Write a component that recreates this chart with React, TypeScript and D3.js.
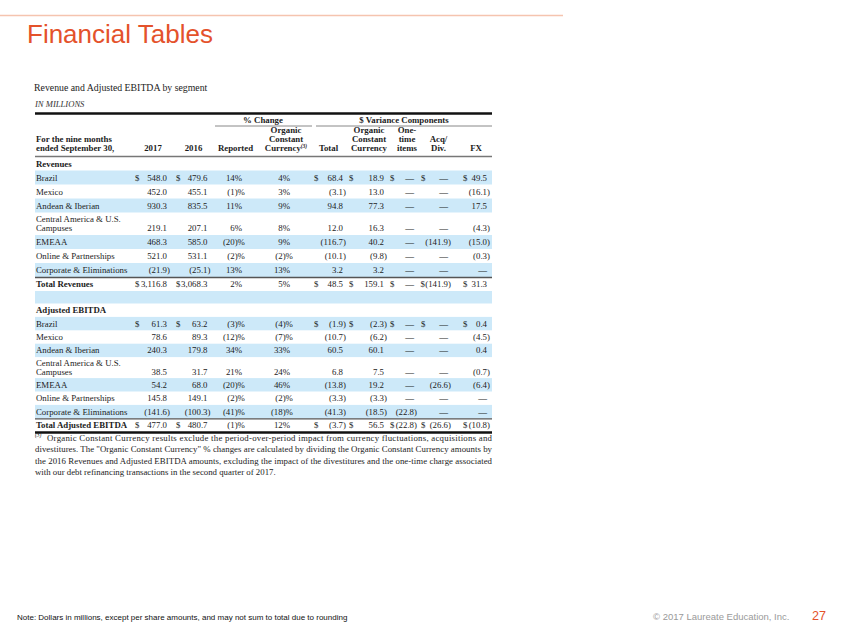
import React from "react";
import * as d3 from "d3";

// ---------- data ----------
const segments = [
  "Brazil",
  "Mexico",
  "Andean & Iberian",
  "Central America & U.S.|Campuses",
  "EMEAA",
  "Online & Partnerships",
  "Corporate & Eliminations",
];
const revenueTotalLabel = "Total Revenues";
const ebitdaTotalLabel = "Total Adjusted EBITDA";

// last value of each array is the total row
const revenue2017 = [548.0, 452.0, 930.3, 219.1, 468.3, 521.0, -21.9, 3116.8];
const revenue2016 = [479.6, 455.1, 835.5, 207.1, 585.0, 531.1, -25.1, 3068.3];
const revenueReportedPct = [14, -1, 11, 6, -20, -2, 13, 2];
const revenueOrganicPct = [4, 3, 9, 8, 9, -2, 13, 5];
const revenueVarTotal = [68.4, -3.1, 94.8, 12.0, -116.7, -10.1, 3.2, 48.5];
const revenueVarOrganic = [18.9, 13.0, 77.3, 16.3, 40.2, -9.8, 3.2, 159.1];
const revenueVarOneTime = [null, null, null, null, null, null, null, null];
const revenueVarAcq = [null, null, null, null, -141.9, null, null, -141.9];
const revenueVarFx = [49.5, -16.1, 17.5, -4.3, -15.0, -0.3, null, 31.3];

const ebitda2017 = [61.3, 78.6, 240.3, 38.5, 54.2, 145.8, -141.6, 477.0];
const ebitda2016 = [63.2, 89.3, 179.8, 31.7, 68.0, 149.1, -100.3, 480.7];
const ebitdaReportedPct = [-3, -12, 34, 21, -20, -2, -41, -1];
const ebitdaOrganicPct = [-4, -7, 33, 24, 46, -2, -18, 12];
const ebitdaVarTotal = [-1.9, -10.7, 60.5, 6.8, -13.8, -3.3, -41.3, -3.7];
const ebitdaVarOrganic = [-2.3, -6.2, 60.1, 7.5, 19.2, -3.3, -18.5, 56.5];
const ebitdaVarOneTime = [null, null, null, null, null, null, -22.8, -22.8];
const ebitdaVarAcq = [null, null, null, null, -26.6, null, null, -26.6];
const ebitdaVarFx = [0.4, -4.5, 0.4, -0.7, -6.4, null, null, -10.8];

const columnKeys = ["y2017", "y2016", "reported", "organicPct", "varTotal", "varOrganic", "varOneTime", "varAcq", "varFx"];
const columnHeaders = [["2017"], ["2016"], ["Reported"], ["Organic", "Constant", "Currency"], ["Total"], ["Organic", "Constant", "Currency"], ["One-", "time", "items"], ["Acq/", "Div."], ["FX"]];
const groupHeaders = ["% Change", "$ Variance Components"];
const stubHeader = ["For the nine months", "ended September 30,"];
const title = "Financial Tables";
const subtitle = "Revenue and Adjusted EBITDA by segment";
const unitsLabel = "IN MILLIONS";
const sectionLabels = ["Revenues", "Adjusted EBITDA"];
const footnoteLines = [
  "Organic Constant Currency results exclude the period-over-period impact from currency fluctuations, acquisitions and",
  "divestitures. The \"Organic Constant Currency\" % changes are calculated by dividing the Organic Constant Currency amounts by",
  "the 2016 Revenues and Adjusted EBITDA amounts, excluding the impact of the divestitures and the one-time charge associated",
  "with our debt refinancing transactions in the second quarter of 2017.",
];
const noteText = "Note: Dollars in millions, except per share amounts, and may not  sum to total due to rounding";
const copyrightText = "\u00A9 2017 Laureate Education, Inc.";
const pageNumber = "27";

// ---------- styles / layout ----------
const SERIF = "'Liberation Serif','Times New Roman',serif";
const SANS = "'Liberation Sans',Arial,sans-serif";
const FS = 8.8;
const ORANGE = "#E4522B";
const BAND = "#CDE9F9";
const INK = "#1c1c1c";
const TL = 35, TR = 492;

const colRight = d3.scaleOrdinal<string, number>().domain(columnKeys).range([167, 207.5, 242, 290, 343, 384, 414, 448, 487]);
const colDollar = d3.scaleOrdinal<string, number>().domain(columnKeys).range([135, 176, NaN, NaN, 314, 349, 390, 421, 463]);
const colHeadCenter = d3.scaleOrdinal<string, number>().domain(columnKeys).range([153, 193.5, 235.5, 286, 328.5, 369, 407, 438.5, 476]);
const pctKeys = new Set(["reported", "organicPct"]);

const fmtNum = d3.format(",.1f");
function fmtValue(v: number | null, key: string): string {
  if (v === null) return "\u2014";
  if (pctKeys.has(key)) return v < 0 ? `(${-v})%` : `${v}%`;
  return v < 0 ? `(${fmtNum(-v)})` : fmtNum(v);
}

let ctx: CanvasRenderingContext2D | null = null;
function measure(text: string, font: string) {
  if (!ctx) ctx = document.createElement("canvas").getContext("2d");
  if (!ctx) return text.length * 4.4;
  ctx.font = font;
  return ctx.measureText(text).width;
}

type Row = { label: string; values: (number | null)[]; shaded: boolean; dollar: boolean; total: boolean };

function buildRows(cols: (number | null)[][], totalLabel: string): Row[] {
  const n = segments.length;
  const rows: Row[] = segments.map((s, i) => ({
    label: s,
    values: cols.map((c) => c[i]),
    shaded: i % 2 === 0,
    dollar: i === 0,
    total: false,
  }));
  rows.push({ label: totalLabel, values: cols.map((c) => c[n]), shaded: false, dollar: true, total: true });
  return rows;
}

const revenueRows = buildRows(
  [revenue2017, revenue2016, revenueReportedPct, revenueOrganicPct, revenueVarTotal, revenueVarOrganic, revenueVarOneTime, revenueVarAcq, revenueVarFx],
  revenueTotalLabel
);
const ebitdaRows = buildRows(
  [ebitda2017, ebitda2016, ebitdaReportedPct, ebitdaOrganicPct, ebitdaVarTotal, ebitdaVarOrganic, ebitdaVarOneTime, ebitdaVarAcq, ebitdaVarFx],
  ebitdaTotalLabel
);

function layoutSection(rows: Row[], top: number, rowH: number, twoH: number) {
  const heights = [rowH, ...rows.map((r) => (r.label.includes("|") ? twoH : rowH))];
  const ends = Array.from(d3.cumsum(heights)).map((v) => v + top);
  const starts = [top, ...ends.slice(0, -1)];
  return { starts, ends };
}

function Cell({ row, key2, v, cy }: { row: Row; key2: string; v: number | null; cy: number }) {
  const text = fmtValue(v, key2);
  const font = `${FS}px ${SERIF}`;
  const hang = text.includes(")") ? measure(")", font) : 0;
  const xr = colRight(key2) + hang;
  const w = measure(text, font);
  const out: React.ReactNode[] = [
    <text key="v" x={xr} y={cy + 3} textAnchor="end" fontFamily={SERIF} fontSize={FS} fill={INK}>{text}</text>,
  ];
  if (row.dollar && !pctKeys.has(key2)) {
    const dw = measure("$", font);
    const dx = Math.min(colDollar(key2), xr - w - dw - 0.3);
    out.push(<text key="d" x={dx} y={cy + 3} fontFamily={SERIF} fontSize={FS} fill={INK}>$</text>);
  }
  return <g>{out}</g>;
}

function Section({ rows, label, top, rowH, twoH, extraBand }: { rows: Row[]; label: string; top: number; rowH: number; twoH: number; extraBand?: number }) {
  const { starts, ends } = layoutSection(rows, top, rowH, twoH);
  const items: React.ReactNode[] = [];
  const hc = (starts[0] + ends[0]) / 2;
  items.push(<text key="h" x={36} y={hc + 3} fontFamily={SERIF} fontWeight="bold" fontSize={FS} fill={INK}>{label}</text>);
  rows.forEach((r, i) => {
    const y0 = starts[i + 1], y1 = ends[i + 1];
    const cy = (y0 + y1) / 2;
    if (r.shaded) items.push(<rect key={`b${i}`} x={TL} y={y0} width={TR - TL} height={y1 - y0} fill={BAND} />);
    if (r.total) items.push(<line key={`t${i}`} x1={TL} x2={TR} y1={y0 + 0.5} y2={y0 + 0.5} stroke="#555" strokeWidth={1.3} />);
    const parts = r.label.split("|");
    parts.forEach((p, j) => {
      const ly = parts.length === 1 ? cy : cy - 4.5 + j * 9;
      items.push(<text key={`l${i}-${j}`} x={36} y={ly + 3} fontFamily={SERIF} fontWeight={r.total ? "bold" : "normal"} fontSize={FS} fill={INK}>{p}</text>);
    });
    const vy = parts.length === 1 ? cy : cy + 4.5;
    columnKeys.forEach((k, ci) => items.push(<Cell key={`c${i}-${ci}`} row={r} key2={k} v={r.values[ci]} cy={vy} />));
  });
  const last = ends[ends.length - 1];
  if (extraBand) items.push(<rect key="eb" x={TL} y={last} width={TR - TL} height={extraBand} fill={BAND} />);
  return <g>{items}</g>;
}

export default function App() {
  const hb = 148; // header bottom-line center
  return (
    <svg width={847} height={635} style={{ position: "absolute", left: 0, top: 0, background: "#fff" }}>
      <rect width={847} height={635} fill="#fff" />
      <line x1={0} x2={563} y1={15.5} y2={15.5} stroke="#F5C4AF" strokeWidth={1.5} />
      <text x={27} y={43} fontFamily={SANS} fontSize={26} fill={ORANGE}>{title}</text>

      <text x={34} y={90.5} fontFamily={SERIF} fontSize={9.8} fill={INK}>{subtitle}</text>
      <text x={35} y={107} fontFamily={SERIF} fontStyle="italic" fontSize={8.6} fill="#333">{unitsLabel}</text>

      <line x1={TL} x2={TR} y1={113.5} y2={113.5} stroke="#111" strokeWidth={2.5} />
      <text x={263} y={123} textAnchor="middle" fontFamily={SERIF} fontWeight="bold" fontSize={FS} fill={INK}>{groupHeaders[0]}</text>
      <text x={404} y={123} textAnchor="middle" fontFamily={SERIF} fontWeight="bold" fontSize={FS} fill={INK}>{groupHeaders[1]}</text>
      <line x1={215} x2={312} y1={126} y2={126} stroke="#888" strokeWidth={1} />
      <line x1={316} x2={TR} y1={126} y2={126} stroke="#888" strokeWidth={1} />

      {stubHeader.map((s, i) => (
        <text key={s} x={36} y={hb - 9 + i * 9 + 3} fontFamily={SERIF} fontWeight="bold" fontSize={FS} fill={INK}>{s}</text>
      ))}
      {columnKeys.map((k, ci) => {
        const lines = columnHeaders[ci];
        return lines.map((t, j) => {
          const y = hb - (lines.length - 1 - j) * 9 + 3;
          const sup = ci === 3 && j === lines.length - 1;
          return (
            <text key={`${k}${j}`} x={colHeadCenter(k)} y={y} textAnchor="middle" fontFamily={SERIF} fontWeight="bold" fontSize={FS} fill={INK}>
              {t}
              {sup ? <tspan fontSize={5.5} dy={-3.5} fontStyle="italic">(3)</tspan> : null}
            </text>
          );
        });
      })}
      <line x1={TL} x2={TR} y1={156.5} y2={156.5} stroke="#777" strokeWidth={1.5} />

      <Section rows={revenueRows} label={sectionLabels[0]} top={156.5} rowH={14} twoH={22.5} extraBand={12.5} />
      <Section rows={ebitdaRows} label={sectionLabels[1]} top={303.5} rowH={13.4} twoH={21} />

      <line x1={TL} x2={TR} y1={432.5} y2={432.5} stroke="#111" strokeWidth={2.5} />

      {footnoteLines.map((t, i) => {
        const y = 440.5 + i * 11.5;
        const x0 = i === 0 ? 47 : 35;
        const justify = i < footnoteLines.length - 1;
        return (
          <g key={i}>
            {i === 0 ? <text x={35} y={y - 3.5} fontFamily={SERIF} fontSize={5.5} fontStyle="italic" fill={INK}>(3)</text> : null}
            <text x={x0} y={y} fontFamily={SERIF} fontSize={FS} fill={INK} {...(justify ? { textLength: TR - x0, lengthAdjust: "spacing" } : {})}>{t}</text>
          </g>
        );
      })}

      <text x={17} y={620} fontFamily={SANS} fontSize={8} fill="#111">{noteText}</text>
      <text x={653} y={619.5} fontFamily={SANS} fontSize={9.5} fill="#9a9a9a">{copyrightText}</text>
      <text x={812} y={620} fontFamily={SANS} fontSize={12.6} fill={ORANGE}>{pageNumber}</text>
    </svg>
  );
}
